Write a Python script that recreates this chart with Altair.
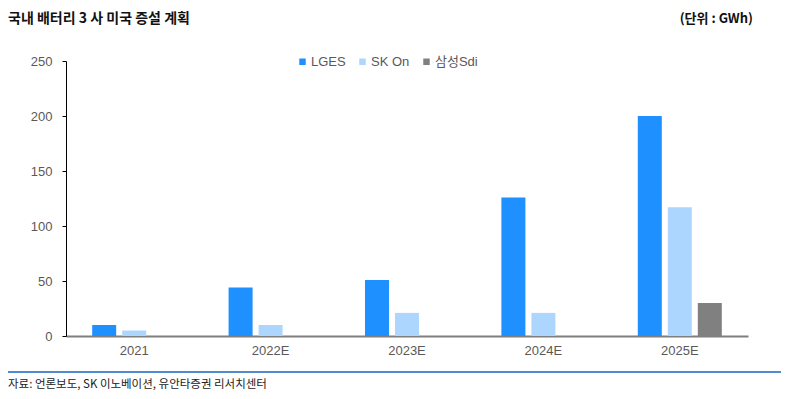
import altair as alt
import pandas as pd

years = ["2021", "2022E", "2023E", "2024E", "2025E"]
series = ["LGES", "SK On", "삼성Sdi"]
lges = [10, 44, 51, 126, 200]
skon = [5, 10, 21, 21, 117]
sdi = [None, None, None, None, 30]
colors = ["#1E90FF", "#ADD6FF", "#808080"]
y_ticks = [0, 50, 100, 150, 200, 250]
title_text = "국내 배터리 3 사 미국 증설 계획"
unit_text = "(단위 : GWh)"
source_text = "자료: 언론보도, SK 이노베이션, 유안타증권 리서치센터"

rows = []
for name, vals in zip(series, [lges, skon, sdi]):
    for yr, v in zip(years, vals):
        if v is not None:
            rows.append({"year": yr, "series": name, "value": v})
df = pd.DataFrame(rows)

FONT = "Liberation Sans, Noto Sans CJK KR, sans-serif"
KFONT = "Noto Sans CJK KR, sans-serif"

bars = alt.Chart(df).mark_bar().encode(
    x=alt.X("year:N", sort=years,
            scale=alt.Scale(paddingInner=0.384, paddingOuter=0.192),
            axis=alt.Axis(title=None, labelAngle=0, ticks=False, tickSize=0,
                          domainColor="#7f7f7f", domainWidth=2,
                          labelFontSize=13, labelColor="#595959", labelPadding=8,
                          labelFont=FONT)),
    xOffset=alt.XOffset("series:N", sort=series,
                        scale=alt.Scale(domain=series, paddingInner=0.2, paddingOuter=0)),
    y=alt.Y("value:Q", scale=alt.Scale(domain=[0, 250]),
            axis=alt.Axis(title=None, values=y_ticks, grid=False, tickSize=4,
                          tickColor="black", domainColor="black",
                          labelFontSize=13, labelColor="#595959", labelPadding=10,
                          labelFont=FONT)),
    color=alt.Color("series:N", scale=alt.Scale(domain=series, range=colors),
                    legend=alt.Legend(title=None, orient="none", direction="horizontal",
                                      legendX=230, legendY=-6, symbolType="square",
                                      symbolSize=42, symbolStrokeWidth=0,
                                      labelFontSize=13, labelColor="#595959",
                                      labelOffset=2, columnPadding=10, padding=0,
                                      labelFont=FONT)),
)

title_df = pd.DataFrame({"t": [title_text]})
unit_df = pd.DataFrame({"t": [unit_text]})
src_df = pd.DataFrame({"t": [source_text]})

title = alt.Chart(title_df).mark_text(
    align="left", baseline="middle", fontSize=14, fontWeight="bold", font=KFONT, color="#111111"
).encode(text="t:N", x=alt.value(-58), y=alt.value(-42))

unit = alt.Chart(unit_df).mark_text(
    align="right", baseline="middle", fontSize=13, fontWeight="bold", font=KFONT, color="#111111"
).encode(text="t:N", x=alt.value(687), y=alt.value(-42))

line = alt.Chart(src_df).mark_rule(color="#1565C0", strokeWidth=1.5).encode(
    x=alt.value(-61), x2=alt.value(716), y=alt.value(311))

src = alt.Chart(src_df).mark_text(
    align="left", baseline="middle", fontSize=11.5, font=KFONT, color="#222222"
).encode(text="t:N", x=alt.value(-58), y=alt.value(324))

chart = alt.layer(bars, title, unit, line, src).properties(
    width=682, height=275,
    autosize=alt.AutoSizeParams(type="none"),
    padding={"left": 58, "top": 53, "right": 33, "bottom": 55},
).configure(font=FONT).configure_view(stroke=None, strokeWidth=0)

chart.save("out.html", embed_options={"renderer": "svg", "actions": False})
